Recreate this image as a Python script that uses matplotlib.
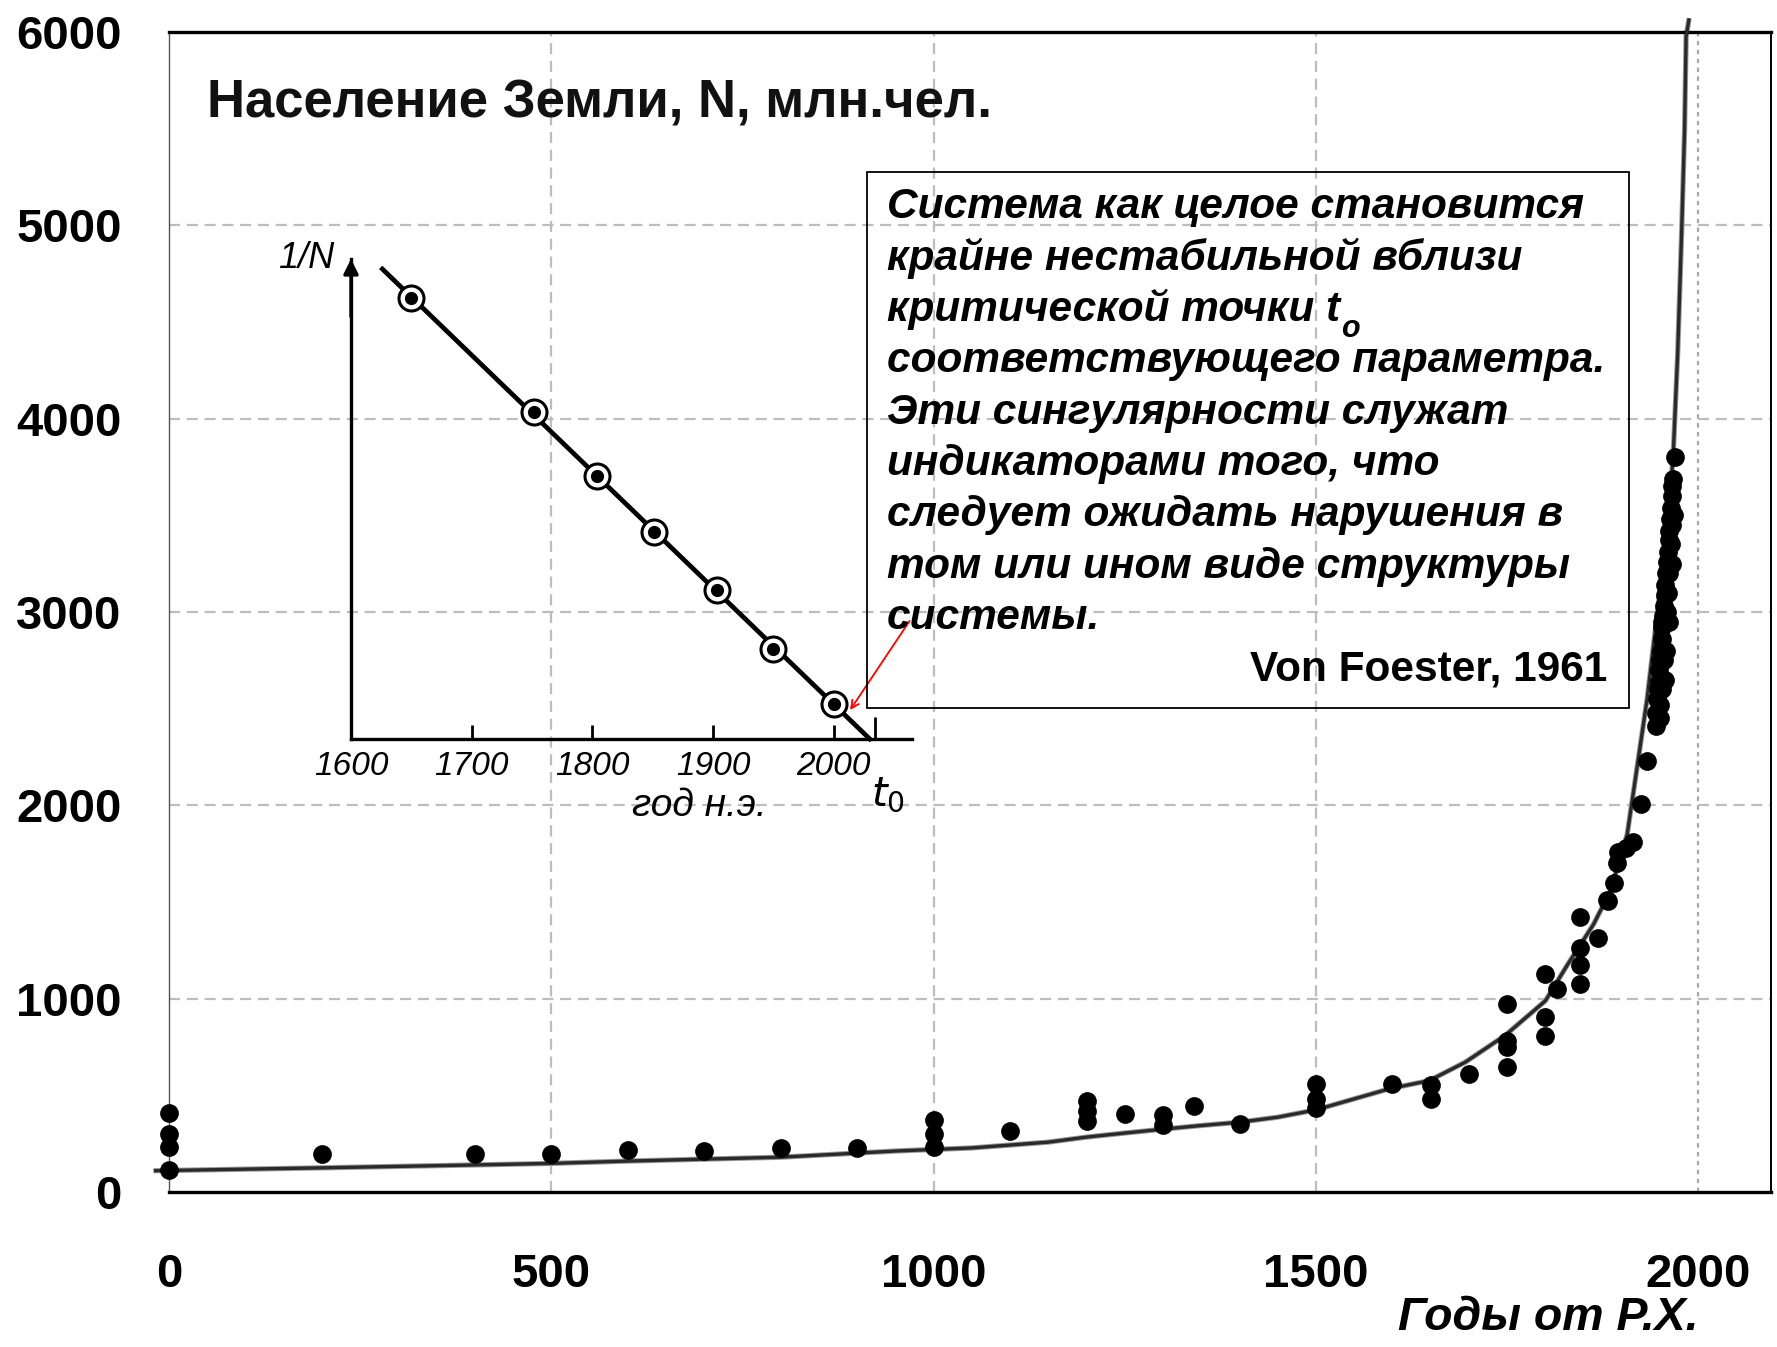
import matplotlib
matplotlib.use('Agg')
import matplotlib.pyplot as plt
from matplotlib.patches import Rectangle

# ---------------- data ----------------
# main chart: world population (millions) vs year AD
pts_year = [0, 0, 0, 0, 200, 400, 500, 600, 700, 800, 900,
            1000, 1000, 1000, 1100, 1200, 1200, 1200, 1250, 1300, 1300, 1340, 1400,
            1500, 1500, 1500, 1600, 1650, 1650, 1700,
            1750, 1750, 1750, 1750, 1800, 1800, 1800, 1815,
            1845, 1845, 1845, 1845, 1869, 1880, 1882, 1890, 1893, 1895, 1905, 1915,
            1925, 1933,
            1944, 1945, 1946, 1947, 1948, 1949, 1950, 1950, 1951, 1952, 1953, 1954,
            1955, 1955, 1956, 1957, 1958, 1959, 1959, 1960, 1961, 1962, 1962, 1963,
            1964, 1964, 1965, 1966, 1966, 1967, 1969,
            1950, 1952, 1956, 1958, 1952, 1962, 1960, 1965, 1968]
pts_N = [410, 300, 235, 115, 195, 195, 195, 215, 212, 229, 229,
         370, 300, 235, 318, 470, 420, 365, 405, 400, 345, 447, 353,
         560, 480, 435, 559, 551, 482, 611,
         972, 783, 748, 645, 1127, 903, 809, 1050,
         1420, 1264, 1175, 1075, 1316, 1510, 1506, 1600, 1700, 1760, 1780, 1810,
         2006, 2228,
         2410, 2480, 2550, 2600, 2640, 2700, 2520, 2750, 2800, 2860, 2920, 2980,
         2750, 3030, 3090, 3140, 3200, 3000, 3260, 3310, 3370, 3200, 3420, 3480,
         3350, 3540, 3600, 3450, 3650, 3690, 3800,
         2450, 2600, 2650, 2800, 2950, 2950, 3100, 3250, 3500]

curve_year = [-20, 200, 400, 500, 600, 800, 950, 1050, 1150, 1200, 1250, 1300,
              1350, 1400, 1450, 1500, 1596, 1648, 1695, 1747, 1800, 1828, 1863,
              1885, 1907, 1920, 1933, 1945, 1957, 1967, 1973, 1978, 1982, 1984, 1988]
curve_N = [110, 125, 140, 148, 160, 180, 212, 228, 258, 284, 305, 325,
           344, 361, 387, 425, 534, 576, 671, 809, 989, 1170, 1385,
           1557, 1851, 2200, 2550, 2950, 3350, 3800, 4343, 4946, 5497, 5978, 6071]

x_ticks = [0, 500, 1000, 1500, 2000]
y_ticks = [0, 1000, 2000, 3000, 4000, 5000, 6000]

# inset: 1/N vs year (arbitrary units)
inset_year = [1650, 1752, 1804, 1851, 1903, 1950, 2000]
inset_invN = [4.41, 3.27, 2.63, 2.07, 1.49, 0.90, 0.35]
inset_fit_year = [1626, 2030]
inset_fit_invN = [4.70, 0.0]
inset_ticks = [1600, 1700, 1800, 1900, 2000]
t0_year = 2034

title_text = "Население Земли, N, млн.чел."
xlabel_text = "Годы от Р.Х."
box_lines = ["Система как целое становится",
             "крайне нестабильной вблизи",
             "критической точки t",
             "соответствующего параметра.",
             "Эти сингулярности служат",
             "индикаторами того, что",
             "следует ожидать нарушения в",
             "том или ином виде структуры",
             "системы."]
box_author = "Von Foester, 1961"

# ---------------- figure ----------------
W, H = 1777, 1347
fig = plt.figure(figsize=(W / 100, H / 100), dpi=100)
fig.patch.set_facecolor('white')


def fx(px):
    return px / W


def fy(py):
    return 1 - py / H


FONT = ['Liberation Sans', 'DejaVu Sans']

ax = fig.add_axes([fx(169), fy(1192), fx(1771) - fx(169), fy(32) - fy(1192)])
ax.set_xlim(0, 2095)
ax.set_ylim(0, 6000)

ax.grid(True, color='#bdbdbd', linestyle=(0, (5, 3)), linewidth=1.6, zorder=0)
ax.set_axisbelow(True)

ax.set_xticks(x_ticks)
ax.set_yticks(y_ticks)
ax.get_xgridlines()[-1].set_linestyle((0, (2, 2)))
ax.get_xgridlines()[-1].set_color('#a8a8a8')
ax.get_xgridlines()[0].set_visible(False)
ax.get_ygridlines()[0].set_visible(False)
ax.get_ygridlines()[-1].set_visible(False)

ax.tick_params(axis='both', length=0)
ax.tick_params(axis='y', pad=34)
ax.tick_params(axis='x', pad=44)
ax.set_xticklabels([str(v) for v in x_ticks], fontsize=34, fontweight='bold', family=FONT)
ax.set_yticklabels([str(v) for v in y_ticks], fontsize=34, fontweight='bold', family=FONT)

for s in ['top', 'bottom']:
    ax.spines[s].set_linewidth(2.4)
    ax.spines[s].set_color('black')
ax.spines['left'].set_linewidth(1.0)
ax.spines['left'].set_color('#555555')
ax.spines['right'].set_linewidth(1.4)
ax.spines['right'].set_color('black')

# curve
ax.plot(curve_year, curve_N, color='#9a9a9a', lw=3.8, zorder=2, clip_on=False,
        solid_capstyle='butt')
ax.plot(curve_year, curve_N, color='#2a2a2a', lw=2.4, zorder=3, clip_on=False,
        solid_capstyle='butt')
# data points
ax.plot(pts_year, pts_N, linestyle='none', marker='o', color='black',
        markersize=13.5, markeredgewidth=0, zorder=4, clip_on=False)

# title inside
fig.text(fx(207), fy(104), title_text, fontsize=38, fontweight='bold',
         family=FONT, ha='left', va='center', color='#111111')

# x label
fig.text(fx(1548), fy(1318), xlabel_text, fontsize=33.5, fontweight='bold',
         style='italic', family=FONT, ha='center', va='center')

# text box
fig.patches.append(Rectangle((fx(867), fy(708)), fx(1629) - fx(867), fy(172) - fy(708),
                             transform=fig.transFigure, fill=False,
                             edgecolor='black', linewidth=1.3, zorder=5))
line_y0 = 207
line_dy = 51.4
txts = []
for i, ln in enumerate(box_lines):
    t = fig.text(fx(887), fy(line_y0 + i * line_dy), ln, fontsize=30.5,
                 fontweight='bold', style='italic', family=FONT,
                 ha='left', va='center', zorder=6)
    txts.append(t)
fig.text(fx(1607), fy(669), box_author, fontsize=30.5, fontweight='bold',
         family=FONT, ha='right', va='center', zorder=6)

# subscript "o" after "t" on third line
fig.canvas.draw()
r = fig.canvas.get_renderer()
bb = txts[2].get_window_extent(renderer=r)
fig.text(bb.x1 / W + fx(1), fy(line_y0 + 2 * line_dy + 19), "o", fontsize=22,
         fontweight='bold', style='italic', family=FONT, ha='left', va='center',
         zorder=6)

# ---------------- inset ----------------
axi = fig.add_axes([fx(351), fy(739), fx(912) - fx(351), fy(259) - fy(739)])
axi.patch.set_alpha(0)
axi.set_xlim(1600, 2065)
axi.set_ylim(0, 4.8)
for s in ['top', 'right']:
    axi.spines[s].set_visible(False)
for s in ['left', 'bottom']:
    axi.spines[s].set_linewidth(2.4)
    axi.spines[s].set_color('black')
axi.set_yticks([])
axi.set_xticks(inset_ticks + [t0_year])
axi.set_xticklabels([str(v) for v in inset_ticks] + [''], fontsize=24,
                    style='italic', family=FONT)
axi.tick_params(axis='x', direction='in', length=10, width=2, pad=9)
axi.xaxis.get_major_ticks()[-1].tick1line.set_markersize(16)
axi.xaxis.get_major_ticks()[0].tick1line.set_visible(False)

axi.annotate('', xy=(0, 1.0), xycoords='axes fraction', xytext=(0, 0.88),
             textcoords='axes fraction',
             arrowprops=dict(arrowstyle='-|>', color='black', lw=2.4,
                             mutation_scale=22, shrinkA=0, shrinkB=0))

axi.plot(inset_fit_year, inset_fit_invN, color='black', lw=3.4, zorder=3,
         clip_on=False)
axi.plot(inset_year, inset_invN, linestyle='none', marker='o', markersize=18,
         markerfacecolor='white', markeredgecolor='black', markeredgewidth=2.2,
         zorder=4, clip_on=False)
axi.plot(inset_year, inset_invN, linestyle='none', marker='o', markersize=9.5,
         color='black', markeredgewidth=0, zorder=5, clip_on=False)

axi.text(-0.08, 1.0, "1/N", transform=axi.transAxes, fontsize=26,
         style='italic', family=FONT, ha='center', va='center')
axi.text(0.62, -0.14, "год н.э.", transform=axi.transAxes, fontsize=28,
         style='italic', family=FONT, ha='center', va='center')
axi.text(0.958, -0.115, r"$t_0$", transform=axi.transAxes, fontsize=29,
         ha='center', va='center')

# red arrow to last inset point
axi.annotate('', xy=(2013.7, 0.29), xycoords='data', xytext=(2063, 1.18),
             textcoords='data', annotation_clip=False,
             arrowprops=dict(arrowstyle='->', color='red', lw=1.3,
                             mutation_scale=14, shrinkA=0, shrinkB=0))

fig.savefig('out.png', dpi=100)
